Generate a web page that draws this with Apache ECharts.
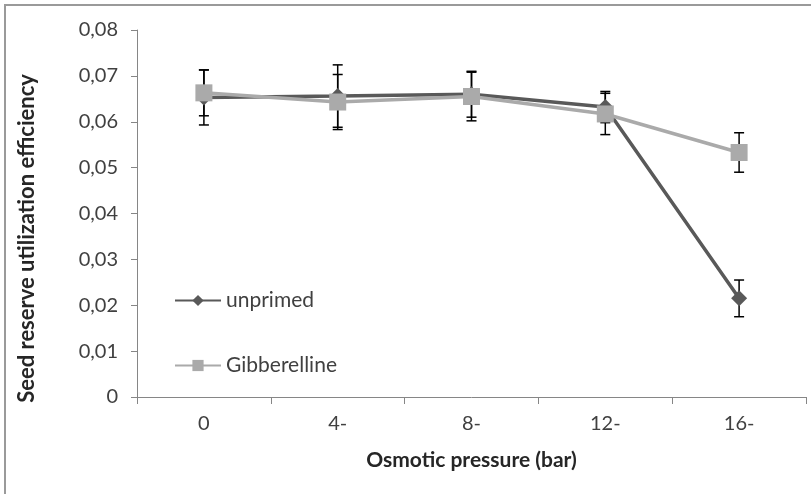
<!DOCTYPE html>
<html>
<head>
<meta charset="utf-8">
<script src="https://cdn.jsdelivr.net/npm/echarts@6/dist/echarts.min.js"></script>
<style>html,body{margin:0;padding:0;background:#fff;}#c{width:811px;height:494px;}</style>
</head>
<body>
<div id="c"></div>
<script>
const categories = ['0', '4-', '8-', '12-', '16-'];
const unprimed = [0.0653, 0.0656, 0.0660, 0.0632, 0.0215];
const unprimedErr = [0.0060, 0.0068, 0.0050, 0.0034, 0.0040];
const gibberelline = [0.0663, 0.0643, 0.0655, 0.0617, 0.0533];
const gibberellineErr = [0.0050, 0.0060, 0.0053, 0.0045, 0.0043];
const yTicks = { min: 0, max: 0.08, interval: 0.01 };

const FONT = 'Lato';
function errData(vals, errs) { return vals.map((v, i) => [i, v - errs[i], v + errs[i]]); }
function errRender(params, api) {
  const x = api.value(0), lo = api.value(1), hi = api.value(2);
  const pHi = api.coord([x, hi]), pLo = api.coord([x, lo]);
  const w = 5;
  const style = { stroke: '#000', lineWidth: 1.5 };
  return { type: 'group', children: [
    { type: 'line', shape: { x1: pHi[0], y1: pHi[1], x2: pLo[0], y2: pLo[1] }, style },
    { type: 'line', shape: { x1: pHi[0] - w, y1: pHi[1], x2: pHi[0] + w, y2: pHi[1] }, style },
    { type: 'line', shape: { x1: pLo[0] - w, y1: pLo[1], x2: pLo[0] + w, y2: pLo[1] }, style }
  ]};
}

const chart = echarts.init(document.getElementById('c'), null, { renderer: 'canvas' });
chart.setOption({
  animation: false,
  backgroundColor: '#fff',
  textStyle: { fontFamily: FONT },
  graphic: [{ type: 'rect', shape: { x: 5, y: 5, width: 1000, height: 1000 }, style: { fill: 'none', stroke: '#9a9a9a', lineWidth: 2 }, silent: true }],
  grid: { left: 137, right: 5, top: 30, bottom: 97 },
  legend: [
    { data: ['unprimed'], left: 174, top: 290, padding: 0, orient: 'vertical', itemWidth: 46, itemHeight: 14, itemGap: 0,
      textStyle: { fontFamily: FONT, fontSize: 21, color: '#404040', lineHeight: 20 } },
    { data: ['Gibberelline'], left: 174, top: 355, padding: 0, orient: 'vertical', itemWidth: 46, itemHeight: 14, itemGap: 0,
      textStyle: { fontFamily: FONT, fontSize: 21, color: '#404040', lineHeight: 20 } }
  ],
  xAxis: {
    type: 'category', data: categories, boundaryGap: true,
    name: 'Osmotic pressure (bar)', nameLocation: 'middle', nameGap: 53,
    nameTextStyle: { fontFamily: FONT, fontSize: 21, fontWeight: 'bold', color: '#262626' },
    axisLine: { lineStyle: { color: '#868686', width: 1 } },
    axisTick: { show: true, interval: 0, length: 7, lineStyle: { color: '#868686' } },
    axisLabel: { fontFamily: FONT, fontSize: 20, color: '#404040', margin: 17 },
    splitLine: { show: false }
  },
  yAxis: {
    type: 'value', min: yTicks.min, max: yTicks.max, interval: yTicks.interval,
    name: 'Seed reserve utilization efficiency', nameLocation: 'middle', nameGap: 99,
    nameTextStyle: { fontFamily: FONT, fontSize: 22, fontWeight: 'bold', color: '#262626', padding: [0, 50, 0, 0] },
    axisLine: { show: true, lineStyle: { color: '#868686', width: 1 } },
    axisTick: { show: true, length: 6, lineStyle: { color: '#868686' } },
    axisLabel: { fontFamily: FONT, fontSize: 20, color: '#404040', margin: 19,
      formatter: v => v === 0 ? '0' : v.toFixed(2).replace('.', ',') },
    splitLine: { show: false }
  },
  series: [
    { type: 'custom', name: 'errU', renderItem: errRender, data: errData(unprimed, unprimedErr), z: 1, silent: true },
    { type: 'custom', name: 'errG', renderItem: errRender, data: errData(gibberelline, gibberellineErr), z: 1, silent: true },
    { type: 'line', name: 'unprimed', data: unprimed, symbol: 'diamond', symbolSize: 16, z: 2,
      lineStyle: { color: '#595959', width: 3.5 }, itemStyle: { color: '#595959' } },
    { type: 'line', name: 'Gibberelline', data: gibberelline, symbol: 'rect', symbolSize: 17, z: 3,
      lineStyle: { color: '#aaaaaa', width: 3.5 }, itemStyle: { color: '#aaaaaa' } }
  ]
});
</script>
</body>
</html>
